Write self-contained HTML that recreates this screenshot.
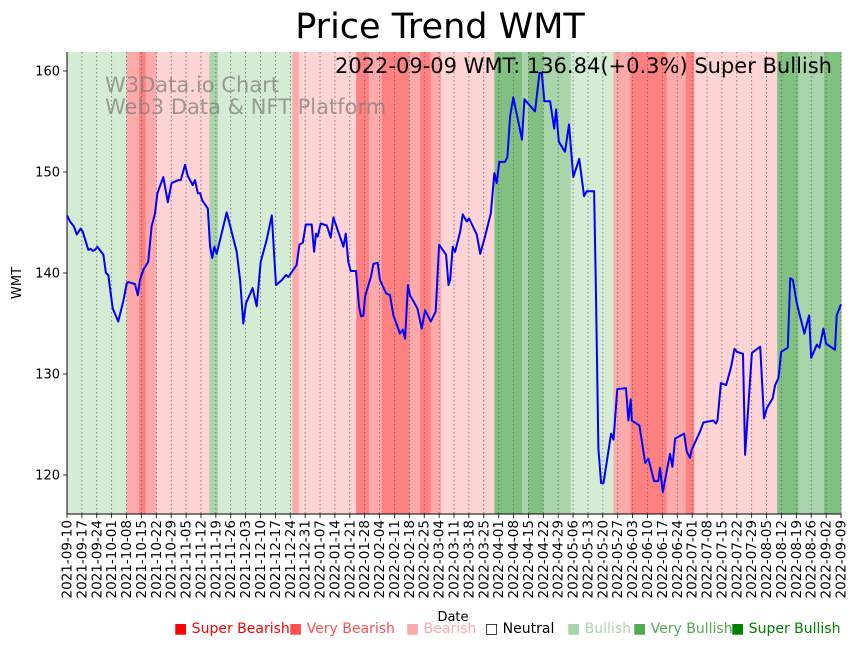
<!DOCTYPE html>
<html><head><meta charset="utf-8"><style>
body{margin:0;background:#fff;}
#wrap{position:relative;width:857px;height:646px;overflow:hidden;font-family:"Liberation Sans","DejaVu Sans",sans-serif;}
.leg{position:absolute;top:621px;font-size:14px;white-space:nowrap;font-family:"DejaVu Sans","Liberation Sans",sans-serif;}
</style></head><body>
<div id="wrap">
<svg id="chart" width="857" height="646" style="position:absolute;left:0;top:0"></svg>
<span class="leg" style="left:174px;color:#ff0000">■ Super Bearish</span>
<span class="leg" style="left:289px;color:#ff5050">■ Very Bearish</span>
<span class="leg" style="left:406px;color:#ffaaaa">■ Bearish</span>
<span class="leg" style="left:485px;color:#000">□ Neutral</span>
<span class="leg" style="left:567px;color:#aad5aa">■ Bullish</span>
<span class="leg" style="left:633px;color:#50aa50">■ Very Bullish</span>
<span class="leg" style="left:731px;color:#008000">■ Super Bullish</span>
</div>
<script>
const bandStarts=[0,28,34,37,42,67,71,106,109,136,142,148,161,166,171,176,201,214,217,224,237,257,265,282,291,295,334,344,356];
const bandEnds=[28,34,37,42,67,71,106,109,136,142,148,161,166,171,176,201,214,217,224,237,257,265,282,291,295,334,344,356,364];
const bandLevels=[1,-2,-3,-2,-1,2,1,-2,-1,-3,-2,-3,-2,-3,-2,-1,3,2,3,2,1,-2,-3,-2,-3,-1,3,2,3];
const priceDays=[0,1.4,3.3,4.6,6.4,7.4,10,11.1,12.1,13.2,14.3,17.1,18.3,19.4,21.5,24.1,26.5,28.1,28.8,32,33.3,34.3,35.9,38.2,39.8,41.4,42.5,45.3,47.4,49.2,52.4,53.5,55.5,56.8,59.1,60.2,61.5,62.6,63.6,66.2,67.3,68.3,69.3,70.4,75.1,79.8,81.4,82.9,84.2,87.3,89.2,91.1,93.9,96.3,98.3,101,103,104.1,108,109.3,110.9,112.3,115.1,116.2,117.1,117.9,119.3,122.2,124,125.3,130,131.1,132.3,133.4,135.9,137.3,138.3,139.4,140.2,142.9,144.1,146.1,147.2,150,151.9,153.5,156.6,157.9,159,160.3,161.3,164.8,166.8,168.4,171.1,173.4,175,178.3,179.4,180.2,181.4,182.5,184.9,186.1,188,189.1,192.7,194.3,196.6,199.3,201,202.1,203.3,206,207.1,208.4,209.9,214,215.1,220.1,222.2,223.3,224.5,227.2,229.1,230,231.3,234.2,236.1,238.1,240.9,243.2,244.4,247.9,248.7,249.9,251.2,252.3,255.9,257,258.8,262.9,264,265.1,265.6,269.2,271.9,273.4,276.1,278.1,278.9,280.2,283.6,284.7,286,290.2,291.5,293,293.8,297.7,299.3,304,305.1,305.9,307.5,310,312.3,313.9,315,317.9,318.9,322.1,326,327.8,329.1,331.9,333,334.6,335.9,339,340.1,341.4,343.2,346.8,349,350,352.6,353.9,355.7,357,361.2,362,364];
const priceValues=[145.7,145.1,144.6,143.8,144.4,144.1,142.3,142.4,142.2,142.3,142.6,141.8,140.0,139.8,136.5,135.2,137.2,139.0,139.1,138.9,137.8,139.3,140.3,141.1,144.6,145.9,147.9,149.5,147.0,148.9,149.2,149.2,150.7,149.6,148.7,149.2,147.9,147.9,147.2,146.4,142.6,141.5,142.6,141.9,146.0,142.1,139.3,135.0,137.0,138.5,136.7,141.1,143.3,145.7,138.8,139.3,139.8,139.6,140.8,142.8,143.0,144.8,144.8,142.1,143.9,143.6,144.9,144.7,143.5,145.5,142.6,143.9,141.1,140.2,140.2,136.7,135.7,135.8,137.7,139.6,140.9,141.0,139.3,138.0,137.8,135.8,134.0,134.4,133.5,138.8,137.8,136.5,134.5,136.3,135.2,136.2,142.8,141.8,138.8,139.3,142.6,142.1,144.1,145.8,145.1,145.4,143.8,141.9,143.6,145.9,149.9,148.9,151.0,151.0,151.5,155.5,157.4,153.2,157.2,156.0,159.8,159.8,157.0,157.0,154.3,156.2,153.0,152.0,154.7,149.5,151.3,147.6,148.1,148.1,139.0,122.6,119.2,119.2,124.1,123.5,128.5,128.6,125.4,127.5,125.4,124.9,121.2,121.6,119.4,119.4,120.7,118.3,122.1,120.8,123.6,124.1,122.3,121.7,122.5,124.3,125.2,125.4,125.1,125.4,129.1,128.9,130.7,132.5,132.2,132.0,122.0,132.1,132.7,125.6,126.6,127.6,128.9,129.6,132.2,132.6,139.5,139.3,137.0,134.0,135.8,131.6,132.9,132.6,134.5,133.0,132.4,135.8,136.9];
const yTicks=[120,130,140,150,160];
const totalDays=364;

const svg=document.getElementById('chart');
const NS='http://www.w3.org/2000/svg';
const L=67,R=841,T=52,B=514;
const xS=d=>L+(d/totalDays)*(R-L);
const yS=v=>475-(v-120)*(404/40);
const colors={'-3':'#ff8080','-2':'#ffaaaa','-1':'#ffd4d4','1':'#d4ebd4','2':'#aad5aa','3':'#80c080'};
function mk(tag,attrs,parent){const e=document.createElementNS(NS,tag);for(const k in attrs)e.setAttribute(k,attrs[k]);(parent||svg).appendChild(e);return e;}

for(let i=0;i<bandStarts.length;i++){
  const r=mk('rect',{x:xS(bandStarts[i]),y:T,width:xS(bandEnds[i])-xS(bandStarts[i])+0.5,height:B-T,fill:colors[bandLevels[i]]});
  
  
}
const start=Date.UTC(2021,8,10);
for(let w=0;w<=52;w++){
  const x=xS(w*7);
  const g=mk('line',{x1:x,x2:x,y1:T,y2:B,stroke:'#666','stroke-width':0.8,'stroke-dasharray':'1.5,2.5'});
  
  
  mk('line',{x1:x,x2:x,y1:B,y2:B+4,stroke:'#000','stroke-width':0.8});
  const dt=new Date(start+w*7*86400000).toISOString().slice(0,10);
  const t=mk('text',{x:0,y:0,transform:`translate(${x+4.5},${B+6}) rotate(-90)`,'text-anchor':'end','font-size':13.5,'font-family':'DejaVu Sans, Liberation Sans, sans-serif',fill:'#000'});
  t.textContent=dt;
  
  
}
yTicks.forEach(v=>{
  const y=yS(v);
  mk('line',{x1:L-4,x2:L,y1:y,y2:y,stroke:'#000','stroke-width':0.8});
  const t=mk('text',{x:L-7,y:y+4.5,'text-anchor':'end','font-size':13,'font-family':'DejaVu Sans, Liberation Sans, sans-serif'});
  t.textContent=v;
  
  
});
mk('line',{x1:L,x2:L,y1:T,y2:B,stroke:'#000','stroke-width':1});
mk('line',{x1:L,x2:R,y1:B,y2:B,stroke:'#000','stroke-width':1});
const pts=priceDays.map((d,i)=>xS(d).toFixed(1)+','+yS(priceValues[i]).toFixed(1)).join(' ');
const pl=mk('polyline',{points:pts,fill:'none',stroke:'#0000ff','stroke-width':2,'stroke-linejoin':'round'});


function txt(s,a,name){const t=mk('text',a);t.textContent=s;return t;}
txt('Price Trend WMT',{x:440,y:38,'text-anchor':'middle','font-size':35,'font-family':'DejaVu Sans, Liberation Sans, sans-serif'},'chart-title');
txt('2022-09-09 WMT: 136.84(+0.3%) Super Bullish',{x:832,y:73,'text-anchor':'end','font-size':21,'font-family':'DejaVu Sans, Liberation Sans, sans-serif'},'latest-price-annotation');
txt('W3Data.io Chart',{x:105,y:92,'font-size':21,fill:'#808080','fill-opacity':0.75,'font-family':'DejaVu Sans, Liberation Sans, sans-serif'},'watermark-line1');
txt('Web3 Data & NFT Platform',{x:105,y:114,'font-size':21,fill:'#808080','fill-opacity':0.75,'font-family':'DejaVu Sans, Liberation Sans, sans-serif'},'watermark-line2');
txt('WMT',{x:0,y:0,transform:'translate(21,283) rotate(-90)','text-anchor':'middle','font-size':13,'font-family':'DejaVu Sans, Liberation Sans, sans-serif'},'y-axis-title');
txt('Date',{x:453,y:621,'text-anchor':'middle','font-size':13,'font-family':'DejaVu Sans, Liberation Sans, sans-serif'},'x-axis-title');
</script>
</body></html>
